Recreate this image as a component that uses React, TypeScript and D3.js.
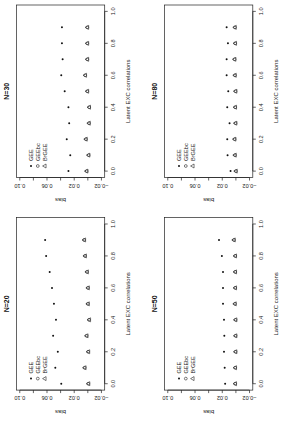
import React, { useRef, useEffect } from 'react';
import * as d3 from 'd3';

// latent exchangeable correlations on the x axis
const corr = [0, 0.1, 0.2, 0.3, 0.4, 0.5, 0.6, 0.7, 0.8, 0.9];
const xTicks = [0, 0.2, 0.4, 0.6, 0.8, 1.0];
const yTicks = [-0.02, 0, 0.02, 0.04, 0.06, 0.08, 0.10];
const yTickLabels = [-0.02, 0.02, 0.06, 0.10];
const methods = ["GEE", "GEEbc", "BrGEE"];

// bias of each estimator, one array per sample size
const gee20 = [0.039, 0.0478, 0.0441, 0.051, 0.0468, 0.0498, 0.0526, 0.056, 0.0613, 0.0627];
const bc20 = [-0.0006, 0.0048, -0.0004, 0.002, -0.0017, 0.0001, 0.0, 0.0014, 0.0043, 0.0055];
const br20 = [-0.0008, 0.0047, -0.0006, 0.0018, -0.0019, -0.0001, -0.0001, 0.0013, 0.0042, 0.0054];

const gee30 = [0.0285, 0.0258, 0.031, 0.0274, 0.0285, 0.034, 0.039, 0.037, 0.038, 0.038];
const bc30 = [0.0018, -0.0011, 0.0029, -0.0016, -0.002, 0.0008, 0.0039, 0.0008, 0.0008, 0.0008];
const br30 = [0.002, -0.0009, 0.003, -0.0015, -0.0018, 0.0009, 0.004, 0.0009, 0.0009, 0.0009];

const gee50 = [0.0158, 0.0165, 0.0175, 0.017, 0.0175, 0.0189, 0.0189, 0.0189, 0.0206, 0.0248];
const bc50 = [0.0011, 0.0011, 0.0006, 0.0006, 0.0006, 0.0015, 0.0011, 0.0011, 0.0011, 0.003];
const br50 = [0.0012, 0.0012, 0.0007, 0.0007, 0.0007, 0.0016, 0.0012, 0.0012, 0.0012, 0.0031];

const gee80 = [0.0078, 0.0122, 0.0127, 0.0093, 0.0127, 0.0112, 0.0136, 0.0136, 0.0117, 0.0136];
const bc80 = [0.0001, 0.0015, 0.002, 0.0006, 0.0011, 0.0006, 0.0015, 0.002, 0.0011, 0.0015];
const br80 = [0.0002, 0.0016, 0.0021, 0.0007, 0.0012, 0.0007, 0.0016, 0.0021, 0.0012, 0.0016];

const panels = [
  { title: "N=20", gee: gee20, bc: bc20, br: br20, col: 0, row: 0 },
  { title: "N=30", gee: gee30, bc: bc30, br: br30, col: 1, row: 0 },
  { title: "N=50", gee: gee50, bc: bc50, br: br50, col: 0, row: 1 },
  { title: "N=80", gee: gee80, bc: bc80, br: br80, col: 1, row: 1 },
];

// the page is landscape R output turned on its side
const W = 283;
const H = 421;
const colBox = [[30.9, 203.4], [243.5, 416]];
const rowBox = [[16.5, 104.7], [164.5, 252.8]];
const font = "'Liberation Sans', Arial, Helvetica, sans-serif";
const ink = "#222";

const App = () => {
  const svgRef = useRef(null);

  useEffect(() => {
    const root = d3.select(svgRef.current);
    root.selectAll('*').remove();

    root.append("rect").attr("width", W).attr("height", H).attr("fill", "white");

    // draw in landscape coordinates, then rotate the page
    const page = root.append("g")
      .attr("transform", `translate(0, ${H}) rotate(-90)`);

    panels.forEach(p => {
      const [x0, x1] = colBox[p.col];
      const [y0, y1] = rowBox[p.row];

      // R style 4% padding around the limits
      const xScale = d3.scaleLinear().domain([-0.04, 1.04]).range([x0, x1]);
      const yScale = d3.scaleLinear().domain([-0.0248, 0.1048]).range([y1, y0]);

      const g = page.append("g");

      // x axis
      g.append("line")
        .attr("x1", xScale(0)).attr("x2", xScale(1))
        .attr("y1", y1).attr("y2", y1)
        .attr("stroke", ink).attr("stroke-width", 0.7);
      xTicks.forEach(t => {
        g.append("line")
          .attr("x1", xScale(t)).attr("x2", xScale(t))
          .attr("y1", y1).attr("y2", y1 + 3)
          .attr("stroke", ink).attr("stroke-width", 0.7);
        g.append("text")
          .attr("x", xScale(t)).attr("y", y1 + 10.5)
          .attr("text-anchor", "middle")
          .attr("font-size", 5.6)
          .attr("font-family", font)
          .attr("fill", ink)
          .text(d3.format(".1f")(t));
      });
      g.append("text")
        .attr("x", (x0 + x1) / 2).attr("y", y1 + 25.5)
        .attr("text-anchor", "middle")
        .attr("font-size", 6)
        .attr("font-family", font)
        .attr("fill", ink)
        .text("Latent EXC correlations");

      // y axis
      g.append("line")
        .attr("x1", x0).attr("x2", x0)
        .attr("y1", yScale(-0.02)).attr("y2", yScale(0.10))
        .attr("stroke", ink).attr("stroke-width", 0.7);
      yTicks.forEach(t => {
        g.append("line")
          .attr("x1", x0 - 3).attr("x2", x0)
          .attr("y1", yScale(t)).attr("y2", yScale(t))
          .attr("stroke", ink).attr("stroke-width", 0.7);
      });
      yTickLabels.forEach(t => {
        g.append("text")
          .attr("transform", `translate(${x0 - 6}, ${yScale(t)}) rotate(-90)`)
          .attr("text-anchor", "middle")
          .attr("font-size", 5.6)
          .attr("font-family", font)
          .attr("fill", ink)
          .text(d3.format(".2f")(t).replace("-", "\u2212"));
      });
      g.append("text")
        .attr("transform", `translate(${x0 - 20}, ${(y0 + y1) / 2}) rotate(-90)`)
        .attr("text-anchor", "middle")
        .attr("font-size", 6)
        .attr("font-family", font)
        .attr("fill", ink)
        .text("bias");

      // plot box
      g.append("rect")
        .attr("x", x0).attr("y", y0)
        .attr("width", x1 - x0).attr("height", y1 - y0)
        .attr("fill", "none")
        .attr("stroke", ink).attr("stroke-width", 0.7);

      // title
      g.append("text")
        .attr("x", (x0 + x1) / 2).attr("y", y0 - 7.5)
        .attr("text-anchor", "middle")
        .attr("font-size", 7)
        .attr("font-weight", "bold")
        .attr("font-family", font)
        .attr("fill", "#111")
        .text(p.title);

      // BrGEE: open triangles
      const tri = d3.symbol().type(d3.symbolTriangle).size(7);
      g.selectAll(".br")
        .data(p.br)
        .enter()
        .append("path")
        .attr("d", tri)
        .attr("transform", (d, i) => `translate(${xScale(corr[i])}, ${yScale(d) + 0.3})`)
        .attr("fill", "none")
        .attr("stroke", ink)
        .attr("stroke-width", 0.6);

      // GEEbc: open circles
      g.selectAll(".bc")
        .data(p.bc)
        .enter()
        .append("circle")
        .attr("cx", (d, i) => xScale(corr[i]))
        .attr("cy", d => yScale(d))
        .attr("r", 1.4)
        .attr("fill", "none")
        .attr("stroke", ink)
        .attr("stroke-width", 0.6);

      // GEE: small solid dots
      g.selectAll(".gee")
        .data(p.gee)
        .enter()
        .append("circle")
        .attr("cx", (d, i) => xScale(corr[i]))
        .attr("cy", d => yScale(d))
        .attr("r", 1)
        .attr("fill", "#111");

      // legend, top left inside the box
      const lx = x0 + 11.5;
      methods.forEach((m, i) => {
        const ly = y0 + 14.5 + i * 6.8;
        if (i === 0) {
          g.append("circle").attr("cx", lx).attr("cy", ly).attr("r", 1).attr("fill", "#111");
        } else if (i === 1) {
          g.append("circle").attr("cx", lx).attr("cy", ly).attr("r", 1.4)
            .attr("fill", "none").attr("stroke", ink).attr("stroke-width", 0.6);
        } else {
          g.append("path").attr("d", tri)
            .attr("transform", `translate(${lx}, ${ly + 0.3})`)
            .attr("fill", "none").attr("stroke", ink).attr("stroke-width", 0.6);
        }
        g.append("text")
          .attr("x", lx + 5).attr("y", ly + 2)
          .attr("font-size", 5.6)
          .attr("font-family", font)
          .attr("fill", ink)
          .text(m);
      });
    });
  }, []);

  return (
    <svg ref={svgRef} width={W} height={H}
      style={{ position: "absolute", left: 0, top: 0, display: "block" }}></svg>
  );
};

export default App;
